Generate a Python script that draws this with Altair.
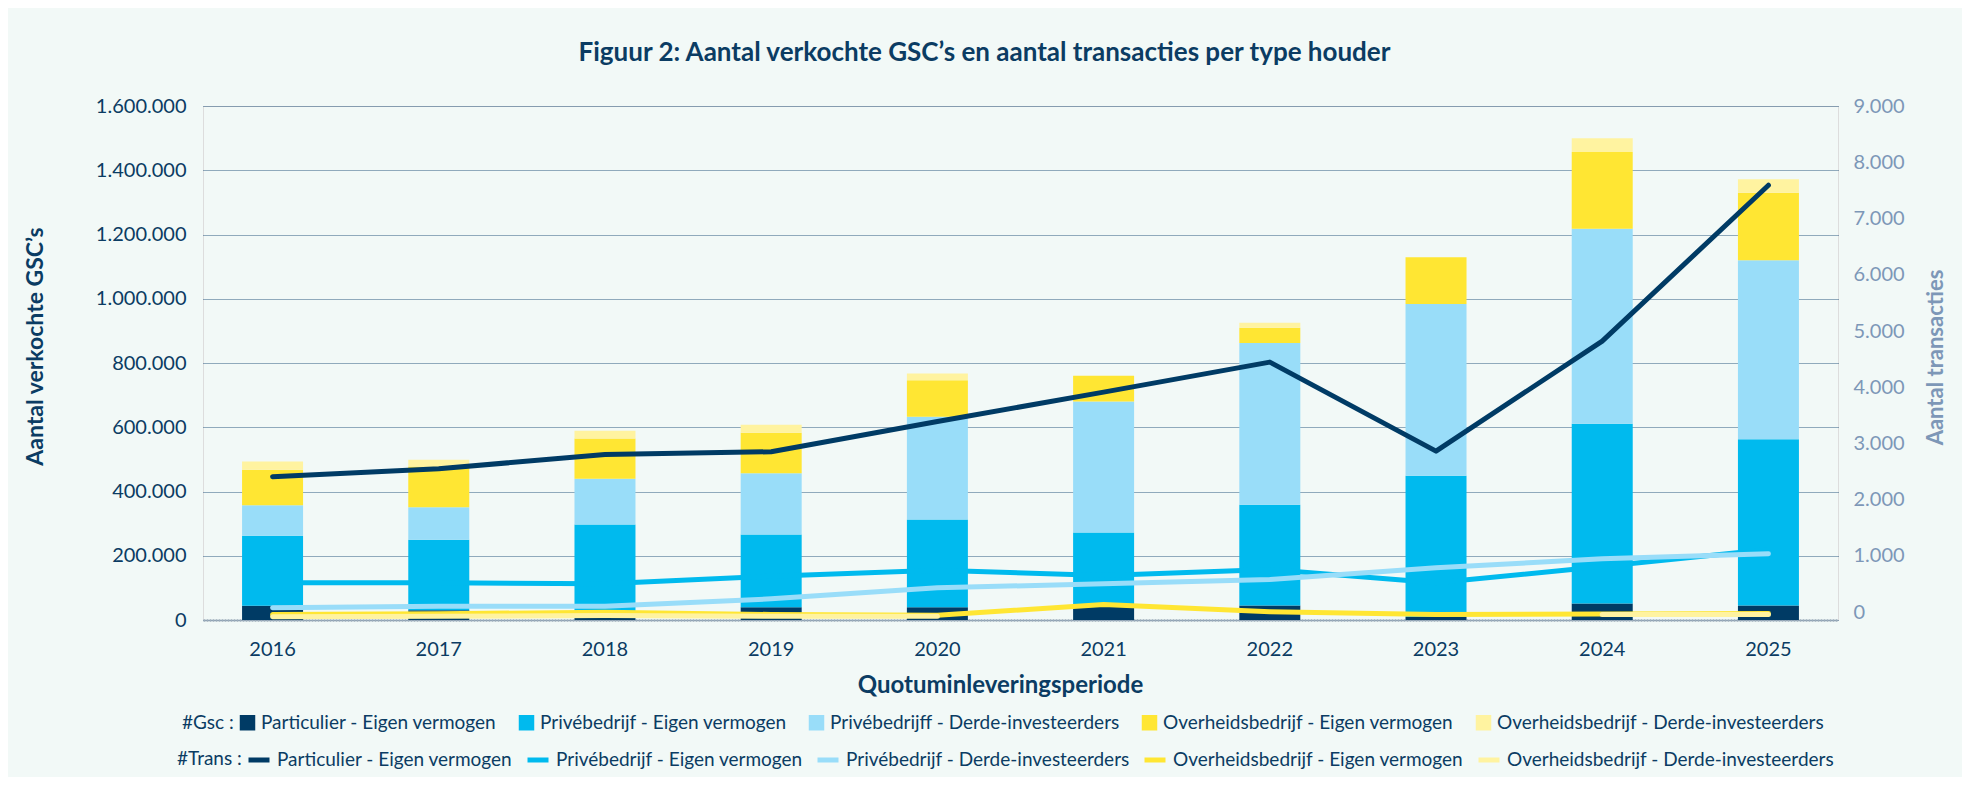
import altair as alt
import pandas as pd

# ---------------- data ----------------
years = ["2016", "2017", "2018", "2019", "2020", "2021", "2022", "2023", "2024", "2025"]

gsc_series = [
    "Particulier - Eigen vermogen",
    "Privébedrijf - Eigen vermogen",
    "Privébedrijff - Derde-investeerders",
    "Overheidsbedrijf - Eigen vermogen",
    "Overheidsbedrijf - Derde-investeerders",
]
trans_series = [
    "Particulier - Eigen vermogen",
    "Privébedrijf - Eigen vermogen",
    "Privébedrijf - Derde-investeerders",
    "Overheidsbedrijf - Eigen vermogen",
    "Overheidsbedrijf - Derde-investeerders",
]
series_colors = ["#003B65", "#00BAEE", "#99DDF9", "#FFE633", "#FFF3A0"]

# Aantal verkochte GSC's (stacked bars, left axis)
gsc_particulier_eigen = [44000, 30000, 25000, 40000, 40000, 50000, 45000, 10000, 51000, 45000]
gsc_prive_eigen = [218000, 220000, 272000, 226000, 273000, 222000, 314000, 439000, 560000, 518000]
gsc_prive_derde = [95000, 101000, 143000, 191000, 320000, 408000, 503000, 535000, 607000, 557000]
gsc_overheid_eigen = [111000, 127000, 125000, 126000, 113000, 80000, 48000, 145000, 239000, 210000]
gsc_overheid_derde = [25000, 21000, 24000, 25000, 21000, 0, 15000, 0, 43000, 42000]

# Aantal transacties (lines, right axis)
trans_particulier_eigen = [2549, 2691, 2946, 2994, 3531, 4055, 4589, 3005, 4963, 7736]
trans_prive_eigen = [662, 662, 644, 780, 886, 792, 899, 662, 952, 1255]
trans_prive_derde = [217, 246, 246, 377, 573, 644, 721, 929, 1090, 1178]
trans_overheid_eigen = [98, 110, 139, 98, 85, 276, 146, 98, 107, 115]
trans_overheid_derde = [57, 68, 80, 68, 68, None, None, None, 100, 100]

left_ticks = [0, 200000, 400000, 600000, 800000, 1000000, 1200000, 1400000, 1600000]
right_ticks = [0, 1000, 2000, 3000, 4000, 5000, 6000, 7000, 8000, 9000]

title_text = "Figuur 2: Aantal verkochte GSC’s en aantal transacties per type houder"

# ---------------- tables ----------------
gsc_values = [gsc_particulier_eigen, gsc_prive_eigen, gsc_prive_derde,
              gsc_overheid_eigen, gsc_overheid_derde]
trans_values = [trans_particulier_eigen, trans_prive_eigen, trans_prive_derde,
                trans_overheid_eigen, trans_overheid_derde]

bar_rows = []
for i, (name, vals) in enumerate(zip(gsc_series, gsc_values)):
    for y, v in zip(years, vals):
        bar_rows.append({"jaar": y, "gsc_type": name, "aantal": v, "idx": i})
bars_df = pd.DataFrame(bar_rows)

line_rows = []
for i, (name, vals) in enumerate(zip(trans_series, trans_values)):
    seg = 0
    prev_none = False
    for y, v in zip(years, vals):
        if v is None:
            prev_none = True
            continue
        if prev_none:
            seg += 1
            prev_none = False
        line_rows.append({"jaar": y, "trans_type": name, "trans": v, "idx": i,
                          "seg": f"{i}-{seg}"})
lines_df = pd.DataFrame(line_rows)

navy = "#0B3C63"
grey_blue = "#7D97B7"
FONT = "Lato"

dot_fmt = "replace(format(datum.value, ',d'), regexp(',', 'g'), '.')"

x_enc = alt.X(
    "jaar:O",
    sort=years,
    scale=alt.Scale(paddingInner=0.633, paddingOuter=0.235),
    axis=alt.Axis(
        labelAngle=0, ticks=False, labelPadding=19, labelFontSize=20,
        labelColor=navy, labelFont=FONT,
        domain=True, domainColor="#9DADBB", domainWidth=2.5, domainDash=[2, 1],
        title="Quotuminleveringsperiode", titleFontSize=24, titleFontWeight="bold",
        titleColor=navy, titleFont=FONT, titleX=797, titleY=65,
        titleBaseline="middle", titleAlign="center",
    ),
)

bars = alt.Chart(bars_df).mark_bar(strokeWidth=0).encode(
    x=x_enc,
    y=alt.Y(
        "aantal:Q", stack="zero",
        scale=alt.Scale(domain=[0, 1600000], nice=False),
        axis=alt.Axis(
            values=left_ticks, labelExpr=dot_fmt, grid=True,
            gridColor="#2F5A80", gridWidth=1, gridDash=[1, 1],
            domain=False, ticks=False, labelPadding=17, labelFontSize=20,
            labelColor=navy, labelFont=FONT,
            title="Aantal verkochte GSC’s", titleFontSize=23, titleFontWeight="bold",
            titleColor=navy, titleFont=FONT, titleAngle=270, titleX=-168, titleY=240,
            titleAlign="center", titleBaseline="middle",
        ),
    ),
    fill=alt.Fill(
        "gsc_type:N",
        scale=alt.Scale(domain=gsc_series, range=series_colors),
        legend=alt.Legend(
            orient="none", legendX=-21, legendY=607, direction="horizontal",
            title="#Gsc :", titleOrient="left", titleFontSize=19,
            titleFontWeight="normal", titleColor=navy, titleFont=FONT, titlePadding=4,
            labelFontSize=19, labelColor=navy, labelFont=FONT, labelOffset=4,
            symbolType="square", symbolSize=240, symbolStrokeWidth=0,
            columnPadding=20, labelLimit=400,
        ),
    ),
    order=alt.Order("idx:Q", sort="ascending"),
)

lines = alt.Chart(lines_df).mark_line(
    strokeWidth=5, strokeCap="round", strokeJoin="round"
).encode(
    x=x_enc,
    y=alt.Y(
        "trans:Q",
        scale=alt.Scale(domain=[0, 9146], nice=False),
        axis=alt.Axis(
            orient="right", values=right_ticks, labelExpr=dot_fmt, grid=False,
            domain=False, ticks=False, labelPadding=15, labelOffset=-8,
            labelFontSize=20, labelColor=grey_blue, labelFont=FONT,
            title="Aantal transacties", titleFontSize=22, titleFontWeight="bold",
            titleColor=grey_blue, titleFont=FONT, titleAngle=270, titleX=97, titleY=251,
            titleAlign="center", titleBaseline="middle",
        ),
    ),
    stroke=alt.Stroke(
        "trans_type:N",
        scale=alt.Scale(domain=trans_series, range=series_colors),
        legend=alt.Legend(
            orient="none", legendX=-26, legendY=641, direction="horizontal",
            title="#Trans :", titleOrient="left", titleFontSize=19,
            titleFontWeight="normal", titleColor=navy, titleFont=FONT, titlePadding=4,
            labelFontSize=19, labelColor=navy, labelFont=FONT, labelOffset=5,
            symbolType="stroke", symbolSize=441, symbolStrokeWidth=5,
            columnPadding=4, labelLimit=400,
        ),
    ),
    detail="seg:N",
)

chart = (
    alt.layer(bars, lines)
    .resolve_scale(y="independent", fill="independent", stroke="independent")
    .properties(
        width=1635,
        height=514,
        autosize=alt.AutoSizeParams(type="none"),
        padding={"left": 195, "top": 98, "right": 124, "bottom": 157},
        background="#F2F9F7",
        title=alt.TitleParams(
            text=title_text, fontSize=26, font=FONT, fontWeight="bold",
            color=navy, anchor="middle", dx=-36, offset=30,
        ),
    )
    .configure_view(stroke=None)
    .configure(font=FONT)
)

chart.save("out.html", embed_options={"renderer": "svg", "actions": False})
